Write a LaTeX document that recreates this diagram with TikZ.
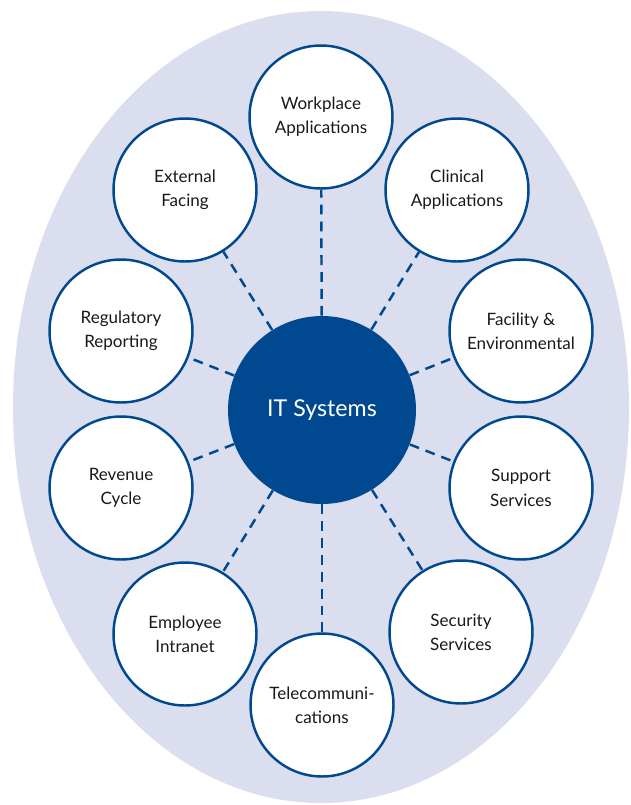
\documentclass[tikz,border=0pt]{standalone}
\usepackage{fontspec}
\setmainfont{Lato}
\definecolor{navy}{RGB}{0,73,144}
\definecolor{lav}{RGB}{218,222,238}
\definecolor{txt}{RGB}{25,25,25}
\begin{document}
\begin{tikzpicture}[x=0.02cm,y=-0.02cm,
  outer/.style={circle,draw=navy,line width=1.4pt,fill=white,minimum size=2.86cm,inner sep=0pt,align=center,text=txt,font=\fontsize{9.7pt}{13.8pt}\selectfont},
  hub/.style={circle,fill=navy,minimum size=3.76cm,inner sep=0pt,text=white,font=\fontsize{13.2pt}{15pt}\selectfont},
  link/.style={draw=navy,line width=1.4pt,dash pattern=on 5.6pt off 4pt}]
\useasboundingbox (0,0) rectangle (631,805);
\fill[lav] (321,407) ellipse [x radius=308, y radius=396];
\node[hub] (it) at (322,410) {IT Systems};
\node[outer] (wp) at (321,117) {Workplace\\Applications};
\node[outer] (cl) at (457,190) {Clinical\\Applications};
\node[outer] (fa) at (521,331) {Facility \&\\Environmental};
\node[outer] (su) at (521,488) {Support\\Services};
\node[outer] (se) at (461,632) {Security\\Services};
\node[outer] (te) at (322,705) {Telecommuni-\\cations};
\node[outer] (em) at (185,634) {Employee\\Intranet};
\node[outer] (re) at (121,488) {Revenue\\Cycle};
\node[outer] (rg) at (121,331) {Regulatory\\Reporting};
\node[outer] (ex) at (185,190) {External\\Facing};
\foreach \n in {wp,cl,fa,su,se,te,em,re,rg,ex}
  \draw[link] (it) -- (\n);
\end{tikzpicture}
\end{document}
